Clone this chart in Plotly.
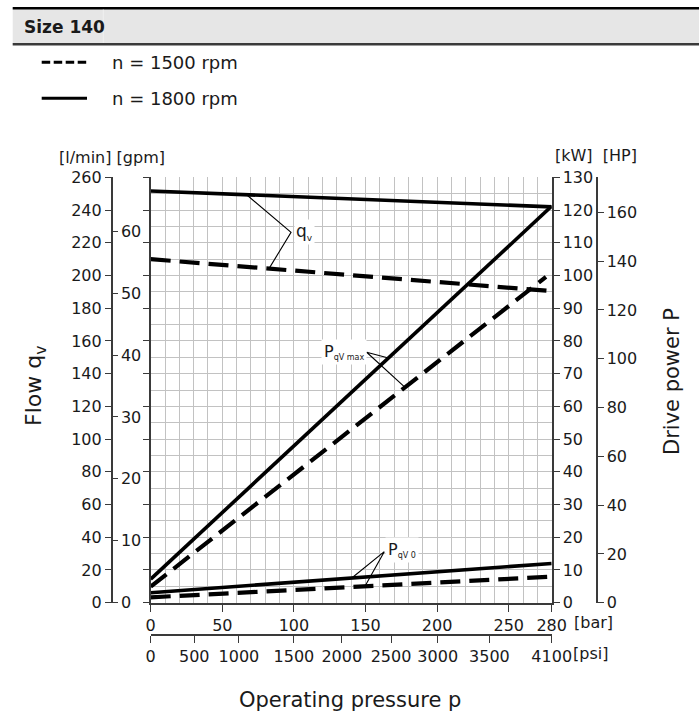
import numpy as np
import plotly.graph_objects as go

# ---------------- data ----------------
pressure_bar = [0, 280]
pressure_bar_p1500 = [0, 276]

qv_1800_lmin = [251.7, 242.0]
qv_1500_lmin = [210.0, 190.5]

p_qvmax_1800_kw = [7.2, 121.2]
p_qvmax_1500_kw = [4.9, 99.6]

p_qv0_1800_kw = [3.05, 12.0]
p_qv0_1500_kw = [1.65, 7.95]

bar_ticks = [0, 50, 100, 150, 200, 250, 280]
flow_ticks = list(range(0, 261, 20))
gpm_ticks = [0, 10, 20, 30, 40, 50, 60]
kw_ticks = list(range(0, 131, 10))
hp_ticks = [0, 20, 40, 60, 80, 100, 120, 140, 160]
psi_labels = ["0", "500", "1000", "1500", "2000", "2500", "3000", "3500", "4100"]
psi_pos_bar = [0, 30.4, 61.6, 100.0, 133.4, 167.8, 200.4, 236.5, 280]

LMIN_PER_GPM = 3.785
KW_PER_HP = 0.7457

# annotation leader geometry (data units)
qv_label = (98.0, 226.4)          # bar, l/min
qv_joints = (67.0, 82.6)          # bar on 1800 / 1500
pmax_label = (150.8, 153.1 / 2)   # bar, kW
pmax_joints = (166.0, 177.6)
p0_label = (163.1, 31.2 / 2)
p0_joints = (140.4, 149.6)

W, H = 699, 722
def px(x):
    return x / W
def py(y):
    return 1 - y / H

FONT = "DejaVu Sans"
INK = "#1a1a1a"
AX = "#3a3a3a"
GRID = "#c2c2c2"

XD = [px(150.7), px(551.7)]
YD = [py(602.7), py(177.4)]

fig = go.Figure()

DASH = "20px,9px"
LW = 3.6

# flow curves (l/min, left axis)
fig.add_trace(go.Scatter(x=pressure_bar, y=qv_1800_lmin, mode="lines",
                         line=dict(color="black", width=LW), xaxis="x", yaxis="y"))
fig.add_trace(go.Scatter(x=pressure_bar, y=qv_1500_lmin, mode="lines",
                         line=dict(color="black", width=LW + 0.6, dash=DASH), xaxis="x", yaxis="y"))
# power curves (kW)
fig.add_trace(go.Scatter(x=pressure_bar, y=p_qvmax_1800_kw, mode="lines",
                         line=dict(color="black", width=LW), xaxis="x", yaxis="y4"))
fig.add_trace(go.Scatter(x=pressure_bar_p1500, y=p_qvmax_1500_kw, mode="lines",
                         line=dict(color="black", width=LW + 0.6, dash=DASH), xaxis="x", yaxis="y4"))
fig.add_trace(go.Scatter(x=pressure_bar, y=p_qv0_1800_kw, mode="lines",
                         line=dict(color="black", width=LW), xaxis="x", yaxis="y4"))
fig.add_trace(go.Scatter(x=pressure_bar, y=p_qv0_1500_kw, mode="lines",
                         line=dict(color="black", width=LW + 0.6, dash=DASH), xaxis="x", yaxis="y4"))

# leader lines
def leader(label, joints, s_solid, s_dash, xs_dash, yaxis):
    j1 = (joints[0], float(np.interp(joints[0], pressure_bar, s_solid)))
    j2 = (joints[1], float(np.interp(joints[1], xs_dash, s_dash)))
    fig.add_trace(go.Scatter(x=[j1[0], label[0], j2[0]], y=[j1[1], label[1], j2[1]],
                             mode="lines", line=dict(color="black", width=1.1),
                             xaxis="x", yaxis=yaxis))

leader(qv_label, qv_joints, qv_1800_lmin, qv_1500_lmin, pressure_bar, "y")
leader(pmax_label, pmax_joints, p_qvmax_1800_kw, p_qvmax_1500_kw, pressure_bar_p1500, "y4")
leader(p0_label, p0_joints, p_qv0_1800_kw, p_qv0_1500_kw, pressure_bar, "y4")

tickfont = dict(family=FONT, size=16, color=INK)

fig.update_layout(
    template="none",
    width=W, height=H,
    margin=dict(l=0, r=0, t=0, b=0, pad=0),
    paper_bgcolor="white", plot_bgcolor="white",
    showlegend=False,
    font=dict(family=FONT, color=INK),
    xaxis=dict(domain=XD, range=[0, 280], anchor="y", automargin=False,
               showline=True, linecolor=AX, linewidth=1.6,
               ticks="outside", ticklen=7, tickcolor=AX, tickwidth=1.4,
               tickmode="array", tickvals=bar_ticks, ticktext=[str(v) for v in bar_ticks],
               tickfont=tickfont, showgrid=True, gridcolor=GRID, gridwidth=1.3,
               minor=dict(dtick=10, tick0=0, showgrid=True, gridcolor=GRID, gridwidth=1.3, ticks=""),
               zeroline=False, fixedrange=True),
    xaxis2=dict(overlaying="x", anchor="free", position=py(635), side="bottom",
                range=[0, 280], automargin=False,
                showline=True, linecolor=AX, linewidth=1.6,
                ticks="outside", ticklen=7, tickcolor=AX, tickwidth=1.4,
                tickmode="array", tickvals=psi_pos_bar, ticktext=psi_labels,
                tickfont=tickfont, showgrid=False, zeroline=False),
    yaxis=dict(domain=YD, range=[0, 260], anchor="x", automargin=False,
               showline=True, linecolor=AX, linewidth=1.6,
               ticks="outside", ticklen=6, tickcolor=AX, tickwidth=1.4,
               tickmode="array", tickvals=flow_ticks, showticklabels=False,
               showgrid=True, gridcolor=GRID, gridwidth=1.3,
               minor=dict(dtick=10, tick0=0, showgrid=True, gridcolor=GRID, gridwidth=1.3, ticks=""),
               zeroline=False),
    yaxis2=dict(overlaying="y", anchor="free", position=px(111.7), side="left",
                range=[0, 260], automargin=False,
                showline=True, linecolor=AX, linewidth=1.6,
                ticks="outside", ticklen=6, tickcolor=AX, tickwidth=1.4,
                tickmode="array", tickvals=flow_ticks, ticktext=[str(v) for v in flow_ticks],
                tickfont=tickfont, showgrid=False, zeroline=False),
    yaxis3=dict(overlaying="y", anchor="free", position=px(111.7), side="right",
                range=[0, 260 / LMIN_PER_GPM], automargin=False,
                showline=False, ticks="outside", ticklen=5, tickcolor=AX, tickwidth=1.4,
                tickmode="array", tickvals=gpm_ticks, ticktext=[str(v) for v in gpm_ticks],
                tickfont=tickfont, showgrid=False, zeroline=False),
    yaxis4=dict(overlaying="y", anchor="x", side="right",
                range=[0, 130], automargin=False,
                showline=True, linecolor=AX, linewidth=1.6,
                ticks="outside", ticklen=6, tickcolor=AX, tickwidth=1.4,
                tickmode="array", tickvals=kw_ticks, ticktext=[str(v) for v in kw_ticks],
                tickfont=tickfont, showgrid=False, zeroline=False),
    yaxis5=dict(overlaying="y", anchor="free", position=px(596.7), side="right",
                range=[0, 130 / KW_PER_HP], automargin=False,
                showline=True, linecolor=AX, linewidth=1.6,
                ticks="outside", ticklen=6, tickcolor=AX, tickwidth=1.4,
                tickmode="array", tickvals=hp_ticks, ticktext=[str(v) for v in hp_ticks],
                tickfont=tickfont, showgrid=False, zeroline=False),
)
# dummy traces so overlay axes render
fig.add_trace(go.Scatter(x=[None], y=[None], xaxis="x2", yaxis="y2", showlegend=False))
fig.add_trace(go.Scatter(x=[None], y=[None], xaxis="x", yaxis="y3", showlegend=False))
fig.add_trace(go.Scatter(x=[None], y=[None], xaxis="x", yaxis="y5", showlegend=False))

shapes = []
# header band
shapes.append(dict(type="rect", xref="paper", yref="paper", x0=px(12.7), x1=1,
                   y0=py(44.3), y1=py(8.3), fillcolor="#e6e6e6", line=dict(width=0), layer="below"))
shapes.append(dict(type="line", xref="paper", yref="paper", x0=px(12.7), x1=1,
                   y0=py(8.3), y1=py(8.3), line=dict(color="black", width=2.6)))
shapes.append(dict(type="line", xref="paper", yref="paper", x0=px(12.7), x1=1,
                   y0=py(44.3), y1=py(44.3), line=dict(color="#3a3a3a", width=2.6)))
shapes.append(dict(type="line", xref="paper", yref="paper", x0=px(103.3), x1=px(103.3),
                   y0=py(43), y1=py(9.6), line=dict(color="#f0f0f0", width=1)))
# legend samples
shapes.append(dict(type="line", xref="paper", yref="paper", x0=px(41.7), x1=px(87),
                   y0=py(62.3), y1=py(62.3), line=dict(color="black", width=3, dash="8.5px,3.5px")))
shapes.append(dict(type="line", xref="paper", yref="paper", x0=px(41.7), x1=px(87),
                   y0=py(98.3), y1=py(98.3), line=dict(color="black", width=3)))
fig.update_layout(shapes=shapes)

ann = []
def txt(x, y, s, size=16, xa="center", ya="middle", angle=0, bg=None, xref="paper", yref="paper"):
    d = dict(x=x, y=y, xref=xref, yref=yref, text=s, showarrow=False, xanchor=xa, yanchor=ya,
             textangle=angle, font=dict(family=FONT, size=size, color=INK))
    if bg:
        d["bgcolor"] = bg
        d["borderpad"] = 1
    ann.append(d)

txt(px(21.7), py(27), "<b>Size 140</b>", size=17, xa="left")
txt(px(110), py(62.5), "n = 1500 rpm", size=18, xa="left")
txt(px(110), py(98.5), "n = 1800 rpm", size=18, xa="left")
txt(px(112), py(157), "[l/min] [gpm]", size=16)
txt(px(596), py(156), "[kW]  [HP]", size=16)
txt(px(572), py(622), "[bar]", size=16, xa="left")
txt(px(571), py(653), "[psi]", size=16, xa="left")
txt(px(350), py(700), "Operating pressure p", size=21)
txt(px(35), py(386), "Flow q<sub>v</sub>", size=22, angle=-90)
txt(px(672), py(382), "Drive power P", size=21, angle=-90)

# curve labels (data coords)
txt(qv_label[0] + 2.0, qv_label[1], "q<sub><span style='font-size:9px'>v</span></sub>", size=17,
    xa="left", bg="white", xref="x", yref="y")
ann.append(dict(x=pmax_label[0], y=pmax_label[1], xref="x", yref="y4", showarrow=False,
                text="P<sub><span style='font-size:8px'>qV max</span></sub>",
                xanchor="right", yanchor="middle", bgcolor="white", borderpad=2,
                font=dict(family=FONT, size=16, color=INK)))
ann.append(dict(x=p0_label[0] + 0.8, y=p0_label[1] + 0.5, xref="x", yref="y4", showarrow=False,
                text="P<sub><span style='font-size:8px'>qV 0</span></sub>",
                xanchor="left", yanchor="middle", bgcolor="white", borderpad=2,
                font=dict(family=FONT, size=16, color=INK)))
fig.update_layout(annotations=ann)

fig.write_html("out.html")
